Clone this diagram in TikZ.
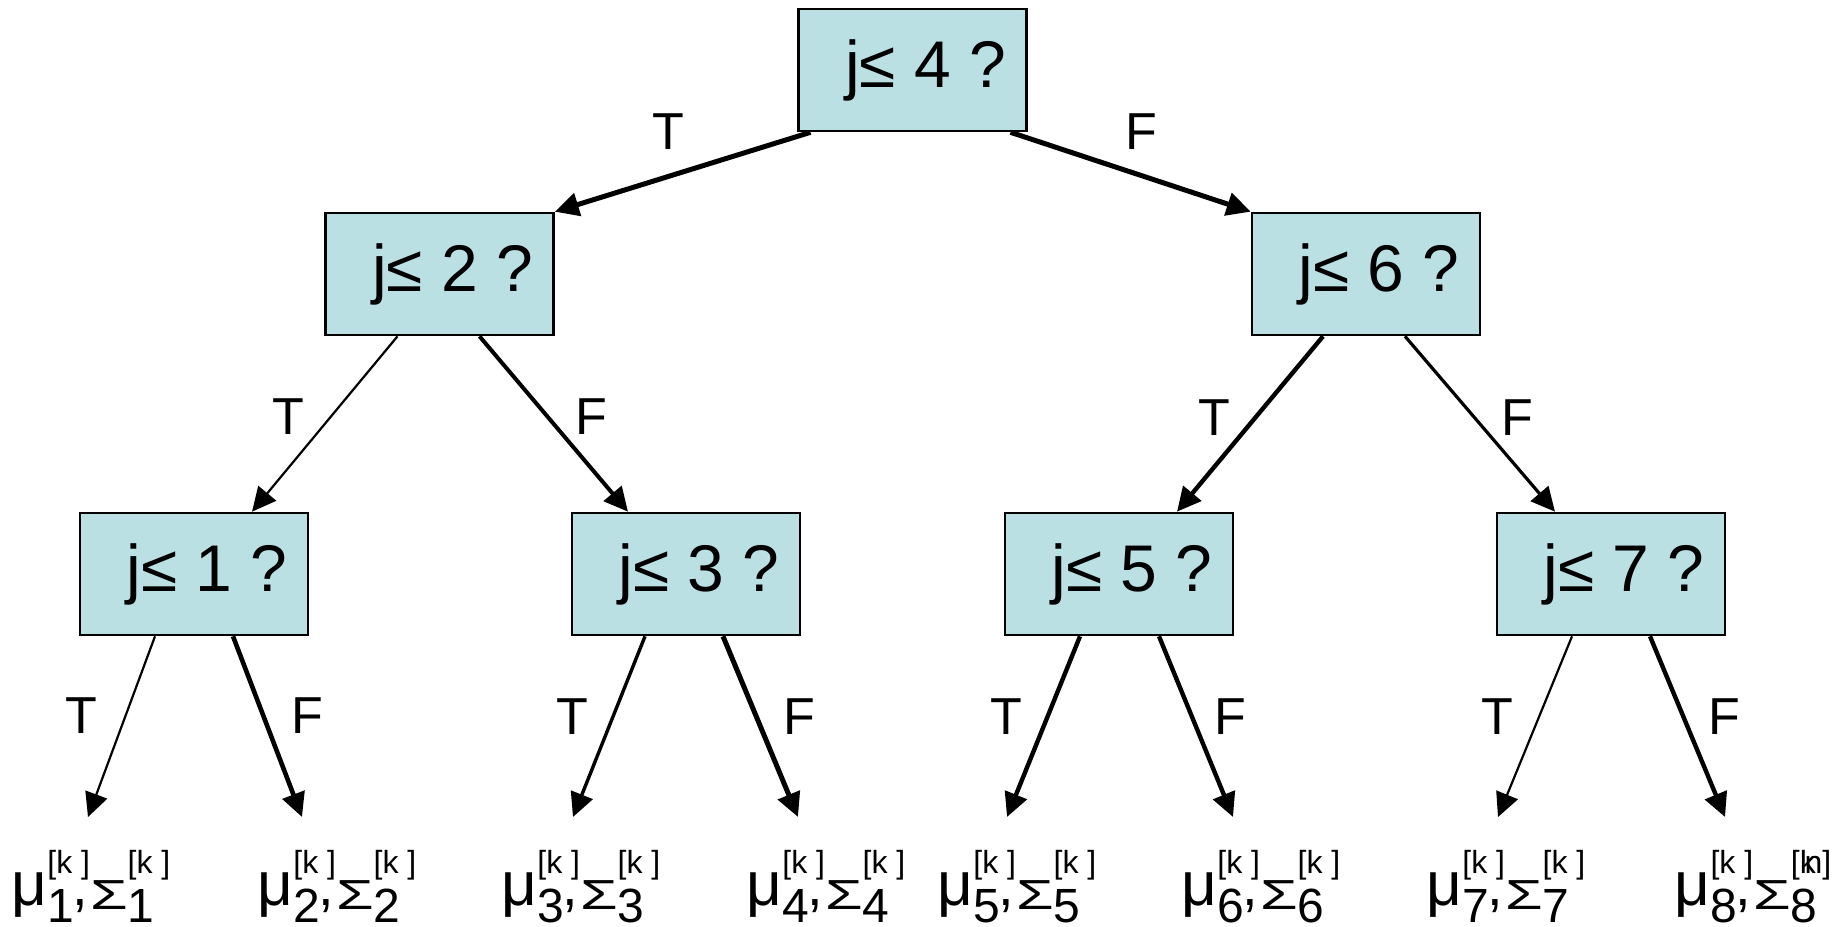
\documentclass[tikz,border=0pt]{standalone}
\usepackage{fontspec}
\setmainfont{Liberation Sans}
\usetikzlibrary{arrows.meta,calc}
\definecolor{boxfill}{HTML}{BBE0E3}
\newdimen\sswd
\newcommand\supsub[2]{% #1 superscript material, #2 subscript material
  \setbox0\hbox{#1}\setbox2\hbox{#2}%
  \sswd=\wd0 \ifdim\wd2>\sswd \sswd=\wd2 \fi
  \rlap{\box0}\rlap{\box2}\kern\sswd}
\newcommand\sbfont{\fontsize{24pt}{24pt}\selectfont}
\newcommand\spfont{\fontsize{16pt}{16pt}\selectfont}
\newcommand\leaflbl[2]{%
  {\fontsize{31pt}{31pt}\selectfont μ}%
  \supsub{\raisebox{16pt}{\spfont [k ]}}%
         {\raisebox{-8.5pt}{\sbfont #1}\kern-1pt{\fontsize{28pt}{28pt}\selectfont ,}}%
  \raisebox{-2pt}{\scalebox{1.45}[1]{\fontsize{21pt}{21pt}\selectfont Σ}}%
  \supsub{\raisebox{16pt}{\spfont #2}}%
         {\raisebox{-8.5pt}{\sbfont #1}}%
}
\begin{document}
\begin{tikzpicture}[x=0.5pt,y=-0.5pt,
  qbox/.style={draw=black,line width=1.3pt,fill=boxfill,minimum width=114pt,
    minimum height=61pt,inner sep=0pt,font=\fontsize{33pt}{36pt}\selectfont},
  edge/.style={-{Triangle[length=12pt,width=11.5pt]}},
  elbl/.style={font=\fontsize{26pt}{28pt}\selectfont,inner sep=0pt},
  leaf/.style={inner sep=0pt,anchor=base}]
\useasboundingbox (0,0) rectangle (1841,926);
\fill[white] (0,0) rectangle (1841,926);

\node[qbox] (n4) at (912.5,70) {\hspace*{13pt}j≤ 4 ?};
\node[qbox] (n2) at (439.5,274) {\hspace*{13pt}j≤ 2 ?};
\node[qbox] (n6) at (1366,274) {\hspace*{13pt}j≤ 6 ?};
\node[qbox] (n1) at (194,574) {\hspace*{13pt}j≤ 1 ?};
\node[qbox] (n3) at (686,574) {\hspace*{13pt}j≤ 3 ?};
\node[qbox] (n5) at (1119,574) {\hspace*{13pt}j≤ 5 ?};
\node[qbox] (n7) at (1611,574) {\hspace*{13pt}j≤ 7 ?};

\node[leaf] (m1) at (91,905) {\leaflbl{1}{[k ]}};
\node[leaf] (m2) at (337,905) {\leaflbl{2}{[k ]}};
\node[leaf] (m3) at (581,905) {\leaflbl{3}{[k ]}};
\node[leaf] (m4) at (826,905) {\leaflbl{4}{[k ]}};
\node[leaf] (m5) at (1017,905) {\leaflbl{5}{[k ]}};
\node[leaf] (m6) at (1261,905) {\leaflbl{6}{[k ]}};
\node[leaf] (m7) at (1506,905) {\leaflbl{7}{[k ]}};
\node[leaf] (m8) at (1753,905) {\leaflbl{8}{[k\kern-0.35em n]}};

\coordinate (t1a) at (88,817);
\coordinate (t1b) at (302,817);
\coordinate (t3a) at (573,817);
\coordinate (t3b) at (798,817);
\coordinate (t5a) at (1007,817);
\coordinate (t5b) at (1233,817);
\coordinate (t7a) at (1498,817);
\coordinate (t7b) at (1725,817);

\draw[edge,line width=2.5pt] ($(n4.south)+(-102,0)$) -- (n2.north east);
\draw[edge,line width=2.5pt] ($(n4.south)+(98,0)$) -- (n6.north west);
\draw[edge,line width=1.1pt] ($(n2.south)+(-42,0)$) -- ($(n1.north)+(58,0)$);
\draw[edge,line width=2pt] ($(n2.south)+(40,0)$) -- ($(n3.north)+(-58,0)$);
\draw[edge,line width=2.2pt] ($(n6.south)+(-43,0)$) -- ($(n5.north)+(58,0)$);
\draw[edge,line width=1.6pt] ($(n6.south)+(39,0)$) -- ($(n7.north)+(-56,0)$);

\draw[edge,line width=1.1pt] ($(n1.south)+(-39,0)$) -- (t1a);
\draw[edge,line width=2.3pt] ($(n1.south)+(39,0)$) -- (t1b);
\draw[edge,line width=1.7pt] ($(n3.south)+(-41,0)$) -- (t3a);
\draw[edge,line width=2.5pt] ($(n3.south)+(37,0)$) -- (t3b);
\draw[edge,line width=2.2pt] ($(n5.south)+(-39,0)$) -- (t5a);
\draw[edge,line width=2.2pt] ($(n5.south)+(40,0)$) -- (t5b);
\draw[edge,line width=1.1pt] ($(n7.south)+(-39,0)$) -- (t7a);
\draw[edge,line width=2.2pt] ($(n7.south)+(39,0)$) -- (t7b);

\node[elbl] (e4t) at (668,132) {T};
\node[elbl] (e4f) at (1141,132) {F};
\node[elbl] (e2t) at (288,417) {T};
\node[elbl] (e2f) at (591,417) {F};
\node[elbl] (e6t) at (1214,418) {T};
\node[elbl] (e6f) at (1517,418) {F};
\node[elbl] (e1t) at (81,716) {T};
\node[elbl] (e1f) at (307,716) {F};
\node[elbl] (e3t) at (572,717) {T};
\node[elbl] (e3f) at (799,717) {F};
\node[elbl] (e5t) at (1006,717) {T};
\node[elbl] (e5f) at (1230,717) {F};
\node[elbl] (e7t) at (1497,717) {T};
\node[elbl] (e7f) at (1724,717) {F};
\end{tikzpicture}
\end{document}
